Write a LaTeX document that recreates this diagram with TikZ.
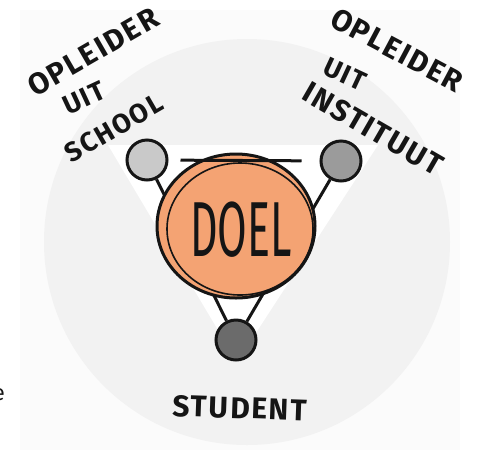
\documentclass[tikz,border=0pt]{standalone}
\usepackage{fontspec}
\setmainfont{Fira Sans}
\newfontfamily\handfont[LetterSpace=6]{Fira Sans}
\usetikzlibrary{shapes.geometric}
\definecolor{panel}{HTML}{FBFBFB}
\definecolor{bgcirc}{HTML}{F2F2F2}
\definecolor{orangegoal}{HTML}{F4A373}
\definecolor{gone}{HTML}{C9C9C9}
\definecolor{gtwo}{HTML}{9B9B9B}
\definecolor{gthree}{HTML}{6B6B6B}
\definecolor{ink}{HTML}{151515}
\tikzset{
  person/.style={circle, draw=ink, line width=3pt, minimum size=40pt, inner sep=0pt},
  edge/.style={draw=ink, line width=3pt},
  goal/.style={ellipse, draw=ink, line width=3pt, fill=orangegoal, minimum width=158pt, minimum height=144pt, inner sep=0pt},
  lbl/.style={text=ink, font=\handfont\bfseries\fontsize{30}{30}\selectfont, inner sep=0pt},
  lblsmall/.style={text=ink, font=\handfont\bfseries\fontsize{27}{27}\selectfont, inner sep=0pt}
}
\begin{document}
\begin{tikzpicture}[x=1pt,y=-1pt]
\useasboundingbox (0,0) rectangle (479,459);
\fill[white] (0,0) rectangle (479,459);
\fill[panel] (20,10) rectangle (460,450);
\fill[bgcirc] (247,242) circle (203pt);
\fill[white] (108,145) -- (378,145) -- (237,362) -- cycle;
% people
\node[person, fill=gone] (school) at (147,160) {};
\node[person, fill=gtwo] (inst) at (341,161) {};
\node[person, fill=gthree] (stud) at (236,340) {};
% edges of the triangle
\draw[edge] (school) -- (stud);
\draw[edge] (inst) -- (stud);
% goal
\node[goal] (doel) at (236,226) {};
\draw[ink, line width=1.6pt] ([shift={(4pt,-3pt)}]doel.center) ellipse (73pt and 66pt);
\draw[edge, shorten <=12pt, shorten >=18pt] (school) -- (inst);
\node[text=ink, font=\fontsize{78}{78}\selectfont, xscale=0.55, inner sep=0pt] (doeltext) at (241,230) {DOEL};
% labels
\node[lbl, rotate=30] (l1a) at (93,52) {OPLEIDER};
\node[lblsmall, rotate=25] (l1b) at (84,98) {UIT};
\node[lblsmall, rotate=30] (l1c) at (114,128) {SCHOOL};
\node[lbl, rotate=-28] (l2a) at (397,50) {OPLEIDER};
\node[lblsmall, rotate=-25] (l2b) at (345,74) {UIT};
\node[lbl, rotate=-30] (l2c) at (373,129) {INSTITUUT};
\node[lbl, rotate=-2] (l3) at (240,408) {STUDENT};
\node[text=ink, font=\fontsize{22}{22}\selectfont, anchor=east, inner sep=0pt] (frag) at (5,395) {e};
\end{tikzpicture}
\end{document}
